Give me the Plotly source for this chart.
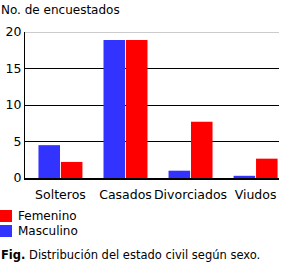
import plotly.graph_objects as go

categories = ["Solteros", "Casados", "Divorciados", "Viudos"]
masculino = [4.5, 18.9, 1.0, 0.3]
femenino = [2.2, 18.9, 7.7, 2.65]
y_ticks = [0, 5, 10, 15, 20]
legend_names = ["Femenino", "Masculino"]
legend_colors = ["#ff0000", "#3333ff"]

FONT = "DejaVu Sans"
PLOT_W, PLOT_H = 254, 146

fig = go.Figure()
fig.add_trace(go.Bar(x=categories, y=masculino, name="Masculino",
                     marker=dict(color="#3333ff", line=dict(width=0))))
fig.add_trace(go.Bar(x=categories, y=femenino, name="Femenino",
                     marker=dict(color="#ff0000", line=dict(width=0))))

fig.update_layout(
    width=285, height=266,
    margin=dict(l=25, r=6, t=32, b=88, autoexpand=False),
    paper_bgcolor="white", plot_bgcolor="white",
    font=dict(family=FONT, size=12, color="black"),
    barmode="group", bargap=0.31, bargroupgap=0.04,
    showlegend=False,
)
fig.update_xaxes(showline=True, linecolor="black", linewidth=2,
                 range=[-0.545, 3.36],
                 ticks="", tickangle=0, tickfont=dict(size=12.5),
                 ticklabelstandoff=4,
                 showgrid=False, automargin=False)
fig.update_yaxes(range=[0, 20], tickvals=y_ticks, showgrid=True,
                 gridcolor="black", gridwidth=1, showline=True,
                 linecolor="black", linewidth=1, ticks="",
                 tickfont=dict(size=12.5), zeroline=False, automargin=False)
fig.add_shape(type="line", xref="paper", yref="y", x0=0, x1=1, y0=20, y1=20,
              line=dict(color="#999999", width=1))
fig.add_annotation(text="No. de encuestados", xref="paper", yref="paper",
                   x=-25/PLOT_W, y=1.0, xanchor="left", yanchor="bottom",
                   yshift=14, showarrow=False, font=dict(size=12),
                   borderpad=0)

# legend (drawn below the plot)
for i, (name, col) in enumerate(zip(legend_names, legend_colors)):
    yc = (178 - (216 + 15 * i)) / PLOT_H
    fig.add_shape(type="rect", xref="paper", yref="paper",
                  x0=-25/PLOT_W, x1=-13/PLOT_W,
                  y0=yc - 6/PLOT_H, y1=yc + 6/PLOT_H,
                  fillcolor=col, line=dict(width=0))
    fig.add_annotation(text=name, xref="paper", yref="paper",
                       x=-8/PLOT_W, y=yc, xanchor="left", yanchor="middle",
                       showarrow=False, font=dict(size=12), borderpad=0)

fig.add_annotation(text="<b>Fig.</b> Distribución del estado civil según sexo.",
                   xref="paper", yref="paper", x=-25/PLOT_W, y=(178-255)/PLOT_H,
                   xanchor="left", yanchor="middle", showarrow=False,
                   font=dict(size=11.5), borderpad=0)
fig.write_html("out.html")
